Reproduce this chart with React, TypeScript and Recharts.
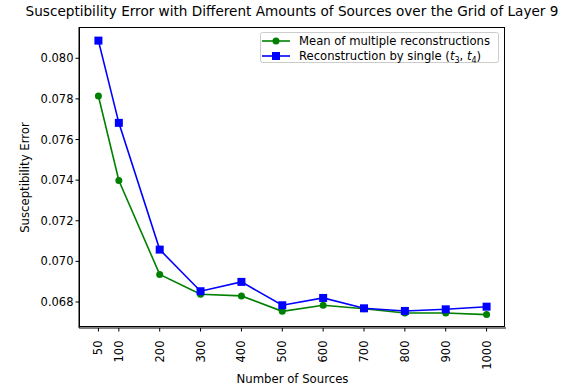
import React from "react"
import { LineChart, Line, XAxis, YAxis } from "recharts"

const sources = [50, 100, 200, 300, 400, 500, 600, 700, 800, 900, 1000]
const meanErrors = [0.07814, 0.07398, 0.06936, 0.06838, 0.0683, 0.06754, 0.06784, 0.06767, 0.06746, 0.06746, 0.06738]
const singleErrors = [0.08087, 0.07682, 0.07058, 0.06853, 0.06899, 0.06784, 0.0682, 0.06769, 0.06756, 0.06764, 0.06777]
const yTicks = [0.068, 0.07, 0.072, 0.074, 0.076, 0.078, 0.08]

const data = sources.map((s, i) => ({ n: s, mean: meanErrors[i], single: singleErrors[i] }))

const FONT = "DejaVu Sans, sans-serif"

const SquareDot = (props: any) => {
  const { cx, cy } = props
  if (cx == null || cy == null) return null
  return <rect x={cx - 4} y={cy - 4} width={8} height={8} fill="#0000ff" />
}

const XTick = (props: any) => {
  const { x, y, payload } = props
  return (
    <text
      x={0}
      y={0}
      transform={`translate(${x},${y + 7}) rotate(-90)`}
      textAnchor="end"
      dy="0.35em"
      fontSize={11.5}
      fontFamily={FONT}
      fill="#000"
    >
      {payload.value}
    </text>
  )
}

const LegendBox = () => (
  <svg width={240} height={32} style={{ position: "absolute", left: 260, top: 32, overflow: "visible" }}>
    <rect x={0.5} y={0.5} width={238} height={30} rx={2} fill="#fff" stroke="#ccc" />
    <line x1={2} y1={9} x2={30} y2={9} stroke="#008000" strokeWidth={1.6} />
    <circle cx={16} cy={9} r={3.5} fill="#008000" />
    <text x={39} y={9} dy="0.35em" fontSize={11.6} fontFamily={FONT} fill="#000">
      Mean of multiple reconstructions
    </text>
    <line x1={2} y1={24} x2={30} y2={24} stroke="#0000ff" strokeWidth={1.6} />
    <rect x={12} y={20} width={8} height={8} fill="#0000ff" />
    <text x={39} y={24} dy="0.35em" fontSize={11.6} fontFamily={FONT} fill="#000">
      Reconstruction by single (
      <tspan fontStyle="italic">t</tspan>
      <tspan fontSize={8} dy="3">3</tspan>
      <tspan dy="-3">, </tspan>
      <tspan fontStyle="italic">t</tspan>
      <tspan fontSize={8} dy="3">4</tspan>
      <tspan dy="-3">)</tspan>
    </text>
  </svg>
)

export default function App() {
  return (
    <div style={{ position: "absolute", left: 0, top: 0, width: 584, height: 392, background: "#fff" }}>
      <div
        style={{
          position: "absolute",
          left: 0,
          top: 3,
          width: 584,
          textAlign: "center",
          fontFamily: FONT,
          fontSize: 13.6,
          color: "#000",
          whiteSpace: "nowrap",
        }}
      >
        Susceptibility Error with Different Amounts of Sources over the Grid of Layer 9
      </div>
      <LineChart width={584} height={392} data={data} margin={{ top: 27, right: 78, left: 0, bottom: 0 }}>
        <XAxis
          dataKey="n"
          type="number"
          domain={[2.5, 1047.5]}
          ticks={sources}
          interval={0}
          height={64}
          tick={<XTick />}
          tickSize={3.5}
          axisLine={{ stroke: "#000" }}
          tickLine={{ stroke: "#000" }}
          label={{ value: "Number of Sources", position: "insideBottom", offset: 9, fontSize: 11.7, fontFamily: FONT, fill: "#000" }}
        />
        <YAxis
          type="number"
          domain={[0.06672, 0.08154]}
          ticks={yTicks}
          width={79}
          tickSize={3.5}
          tickFormatter={(v: number) => v.toFixed(3)}
          tick={{ fontSize: 11.5, fontFamily: FONT, fill: "#000" }}
          axisLine={{ stroke: "#000" }}
          tickLine={{ stroke: "#000" }}
          allowDataOverflow
          label={{ value: "Susceptibility Error", angle: -90, position: "insideLeft", offset: 25, style: { textAnchor: "middle" }, fontSize: 11.7, fontFamily: FONT, fill: "#000" }}
        />
        <Line dataKey="mean" stroke="#008000" strokeWidth={1.6} dot={{ r: 3.5, fill: "#008000", stroke: "#008000", strokeWidth: 0 }} isAnimationActive={false} />
        <Line dataKey="single" stroke="#0000ff" strokeWidth={1.6} dot={<SquareDot />} isAnimationActive={false} />
      </LineChart>
      <div style={{ position: "absolute", left: 79, top: 27, width: 426, height: 300, border: "1px solid #000", boxSizing: "border-box", pointerEvents: "none" }} />
      <LegendBox />
    </div>
  )
}
